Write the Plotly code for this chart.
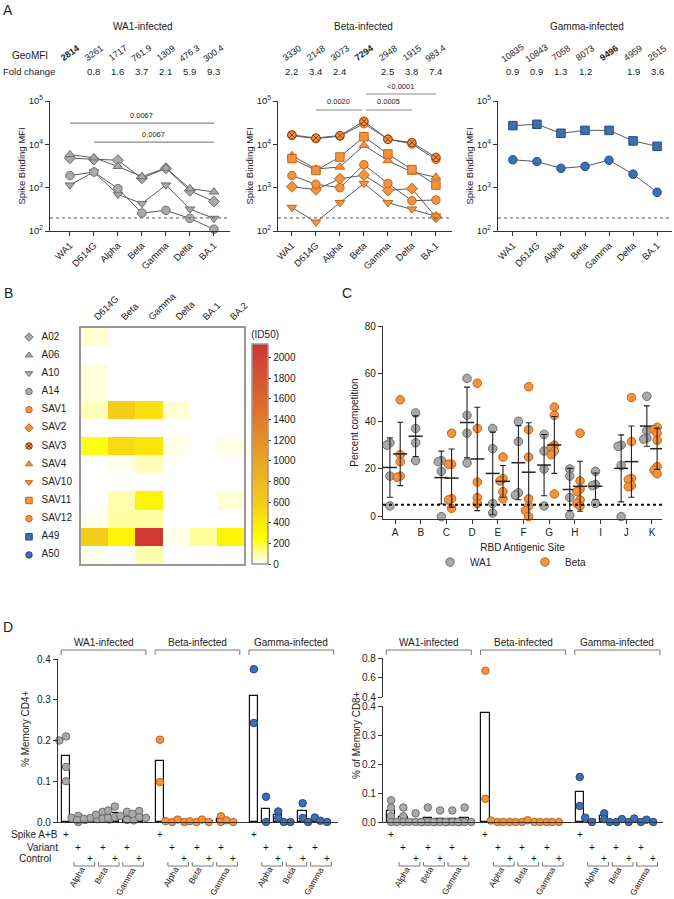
import numpy as np
import plotly.graph_objects as go

W, H = 674, 899
FONT = "Liberation Sans, Arial, sans-serif"


def px(x):
    return x / W


def py(y):
    return 1 - y / H


GREY, GREY_EDGE = "#a9a9a9", "#6f6f6f"
ORANGE, ORANGE_EDGE = "#f5923e", "#c0651a"
BLUE, BLUE_EDGE = "#3d6fb6", "#27487a"
AXC = "#333333"

# ---------------- Panel A : spike binding ----------------
variants_a = ["WA1", "D614G", "Alpha", "Beta", "Gamma", "Delta", "BA.1"]

wa1_donors = ["A02", "A06", "A10", "A14"]
wa1_mfi = [
    [4800, 4500, 4300, 1650, 2800, 850, 480],
    [5800, 4900, 3100, 1800, 2850, 950, 800],
    [1150, 2300, 700, 430, 1150, 320, 195],
    [1900, 2300, 950, 260, 300, 195, 110],
]
beta_donors = ["SAV1", "SAV2", "SAV3", "SAV4", "SAV10", "SAV11", "SAV12"]
beta_mfi = [
    [16000, 13500, 15500, 30000, 13200, 10200, 4500],
    [1050, 900, 1600, 1950, 870, 950, 210],
    [16500, 14000, 16000, 34000, 13000, 11000, 5000],
    [5500, 2700, 3000, 9500, 4200, 2300, 1750],
    [350, 160, 450, 1250, 450, 320, 220],
    [4700, 2500, 5100, 15000, 6000, 2600, 1150],
    [1900, 1200, 1000, 3400, 1250, 500, 520],
]
gamma_donors = ["A49", "A50"]
gamma_mfi = [
    [27000, 29000, 18000, 21000, 21000, 12000, 9000],
    [4400, 4000, 2800, 3100, 4300, 2050, 780],
]

wa1_geo = ["<b>2814</b>", "3261", "1717", "761.9", "1309", "476.3", "300.4"]
wa1_fold = ["", "0.8", "1.6", "3.7", "2.1", "5.9", "9.3"]
beta_geo = ["3330", "2148", "3073", "<b>7294</b>", "2948", "1915", "983.4"]
beta_fold = ["2.2", "3.4", "2.4", "", "2.5", "3.8", "7.4"]
gamma_geo = ["10835", "10843", "7058", "8073", "<b>9496</b>", "4959", "2615"]
gamma_fold = ["0.9", "0.9", "1.3", "1.2", "", "1.9", "3.6"]

# (from, to, MFI height, p value)
wa1_sig = [(0, 6, 31000, "0.0067"), (1, 6, 11300, "0.0067")]
beta_sig = [(1, 2.92, 62000, "0.0020"), (3.08, 5, 62000, "0.0005"), (3.08, 6, 145000, "<0.0001")]

donor_style = {
    "A02": ("diamond", GREY, GREY_EDGE), "A06": ("triangle-up", GREY, GREY_EDGE),
    "A10": ("triangle-down", GREY, GREY_EDGE), "A14": ("circle", GREY, GREY_EDGE),
    "SAV1": ("circle", ORANGE, ORANGE_EDGE), "SAV2": ("diamond", ORANGE, ORANGE_EDGE),
    "SAV3": ("circle-x", ORANGE, "#7a3a0a"), "SAV4": ("triangle-up", ORANGE, ORANGE_EDGE),
    "SAV10": ("triangle-down", ORANGE, ORANGE_EDGE), "SAV11": ("square", ORANGE, ORANGE_EDGE),
    "SAV12": ("circle", ORANGE, ORANGE_EDGE), "A49": ("square", BLUE, BLUE_EDGE),
    "A50": ("circle", BLUE, BLUE_EDGE),
}

# ---------------- Panel B : neutralisation heatmap ----------------
hm_cols = ["D614G", "Beta", "Gamma", "Delta", "BA.1", "BA.2"]
hm_rows = ["A02", "A06", "A10", "A14", "SAV1", "SAV2", "SAV3", "SAV4", "SAV10", "SAV11", "SAV12", "A49", "A50"]
hm_vals = [
    [45, 0, 0, 0, 0, 0],
    [0, 0, 0, 0, 0, 0],
    [35, 0, 0, 0, 0, 0],
    [35, 0, 0, 0, 0, 0],
    [70, 600, 450, 40, 0, 0],
    [0, 0, 0, 0, 0, 0],
    [230, 500, 430, 25, 0, 25],
    [0, 20, 70, 0, 0, 0],
    [0, 0, 0, 0, 0, 0],
    [0, 80, 330, 0, 0, 40],
    [15, 90, 90, 0, 0, 0],
    [600, 330, 2100, 20, 100, 330],
    [15, 0, 80, 0, 0, 0],
]

# ---------------- Panel C : competition ----------------
sites = ["A", "B", "C", "D", "E", "F", "G", "H", "I", "J", "K"]
wa1_comp = [
    [31, 30, 17, 4.5], [43.5, 37, 31, 23.5], [23.5, 23, 19, 0], [58, 42.5, 35, 22.5],
    [37, 28.5, 5.5, 1.5], [40, 31.5, 10, 9], [34.5, 27.5, 20, 4.5], [20, 17, 8, 0.5],
    [19, 13.5, 13, 5.5], [30, 29.5, 21.5, 0], [50.5, 36, 33, 32.5],
]
beta_comp = [
    [49, 26, 23, 17, 16.5], [], [35, 22, 22, 7.5, 7, 3.5], [56, 37, 14.5, 8, 5.5],
    [25, 16, 15, 10.5, 7.5], [54.5, 36.5, 25, 7.5, 4.5, 2.5, 0],
    [46, 42.5, 30, 29, 27.5, 26, 9.5], [35, 15, 11.5, 10.5, 7, 5.5, 4.5], [],
    [50, 31.5, 16, 15.5, 13, 12.5], [37.5, 36.5, 35, 32, 21, 19.5, 18],
]

# ---------------- Panel D : T cells ----------------
groups_d = ["WA1-infected", "Beta-infected", "Gamma-infected"]
pair_names = ["Alpha", "Beta", "Gamma"]
cd4_wa1 = [[0.21, 0.2, 0.135, 0.1], [0.015, 0.01, 0.005, 0.0], [0.01, 0.008, 0.007, 0.005],
           [0.025, 0.018, 0.008, 0.006], [0.038, 0.028, 0.012, 0.01], [0.025, 0.015, 0.005, 0.004],
           [0.027, 0.02, 0.012, 0.01]]
cd4_beta = [[0.202, 0.098], [0.0, 0.002], [0.0, 0.006], [0.0, 0.002], [0.0, 0.006], [0.014, 0.0], [0.0, 0.004]]
cd4_gamma = [[0.375, 0.243], [0.062, 0.0], [0.026, 0.01], [0.0, 0.0], [0.046, 0.01], [0.011, 0.0], [0.0, 0.003]]
cd8_wa1 = [[0.075, 0.05, 0.02, 0.0], [0.05, 0.02, 0.0, 0.0], [0.03, 0.0, 0.0, 0.0], [0.05, 0.0, 0.0, 0.0],
           [0.04, 0.0, 0.0, 0.0], [0.04, 0.0, 0.0, 0.0], [0.05, 0.0, 0.0, 0.0]]
cd8_beta = [[0.67, 0.08], [0.0, 0.005], [0.0, 0.0], [0.0, 0.0], [0.0, 0.006], [0.0, 0.0], [0.0, 0.0]]
cd8_gamma = [[0.155, 0.055], [0.0, 0.015], [0.03, 0.01], [0.0, 0.0], [0.0, 0.01], [0.0, 0.012], [0.0, 0.008]]
GROUP_STEP = 7.7

fig = go.Figure()
lay = {}
shapes = []
ann = []


def nm(kind, n):
    return kind + ("axis" if n == 1 else f"axis{n}")


def ref(kind, n):
    return kind if n == 1 else f"{kind}{n}"


def text(x, y, t, size=10, xref="paper", yref="paper", xanchor="center", yanchor="middle", color="#222", **kw):
    if not t:
        return
    ann.append(dict(x=x, y=y, text=t, xref=xref, yref=yref, showarrow=False, xanchor=xanchor, yanchor=yanchor,
                    font=dict(size=size, color=color, family=FONT), **kw))


def line(x0, y0, x1, y1, xref="paper", yref="paper", color="#888", width=1.2, dash=None):
    shapes.append(dict(type="line", x0=x0, y0=y0, x1=x1, y1=y1, xref=xref, yref=yref,
                       line=dict(color=color, width=width, dash=dash)))


def swarm(vals, thr, d):
    placed, offs = [], []
    for v in vals:
        o = 0
        for k in [0, -1, 1, -2, 2, -3, 3]:
            o = k * d
            if all(abs(v - pv) >= thr or abs(o - po) >= d * 0.99 for pv, po in placed):
                break
        placed.append((v, o))
        offs.append(o)
    return offs


axis_common = dict(showgrid=False, zeroline=False, showline=True, linecolor=AXC, linewidth=1.3,
                   ticks="outside", ticklen=4, tickcolor=AXC, tickwidth=1.2, automargin=False,
                   tickfont=dict(size=9.5, color="#222", family=FONT))

# ---- Panel A axes and traces
A_TOP, A_BOT = 101, 231


def a_paper(v):
    return py(A_BOT) + (np.log10(v) - 2) / 3 * (py(A_TOP) - py(A_BOT))


a_panels = [
    (1, 50, 230, [-0.83, 6.67], 143, "WA1-infected", wa1_donors, wa1_mfi, wa1_geo, wa1_fold, wa1_sig),
    (2, 278, 452, [-0.58, 6.67], 363, "Beta-infected", beta_donors, beta_mfi, beta_geo, beta_fold, beta_sig),
    (3, 498, 672, [-0.62, 6.62], 587, "Gamma-infected", gamma_donors, gamma_mfi, gamma_geo, gamma_fold, []),
]
for n, x0, x1, xr, tx, title, donors, mfi, geo, fold, sig in a_panels:
    lay[nm("x", n)] = dict(axis_common, domain=[px(x0), px(x1)], range=xr, anchor=ref("y", n),
                           tickvals=list(range(7)), ticktext=variants_a, tickangle=-45)
    lay[nm("y", n)] = dict(axis_common, domain=[py(A_BOT), py(A_TOP)], type="log", range=[2, 5],
                           anchor=ref("x", n), tickvals=[100, 1000, 10000, 100000],
                           ticktext=["10<sup>2</sup>", "10<sup>3</sup>", "10<sup>4</sup>", "10<sup>5</sup>"],
                           title=dict(text="Spike Binding MFI", font=dict(size=9.5, family=FONT, color="#222"),
                                      standoff=1))
    shapes.append(dict(type="line", xref=ref("x", n) + " domain", x0=0, x1=1, yref=ref("y", n), y0=200, y1=200,
                       line=dict(color="#555", width=1, dash="dot")))
    for d, vals in zip(donors, mfi):
        sym, col, edge = donor_style[d]
        fig.add_trace(go.Scatter(x=list(range(7)), y=vals, mode="lines+markers", showlegend=False,
                                 xaxis=ref("x", n), yaxis=ref("y", n), cliponaxis=False,
                                 line=dict(color="#5a5a5a", width=1),
                                 marker=dict(symbol=sym, size=8.5, color=col, line=dict(color=edge, width=1))))
    text(tx / W, py(26), title, size=10)
    for i in range(7):
        text(i, py(53), geo[i], size=9, xref=ref("x", n), textangle=-35)
        text(i, py(71), fold[i], size=9.5, xref=ref("x", n))
    for s0, s1, yv, lab in sig:
        line(s0, a_paper(yv), s1, a_paper(yv), xref=ref("x", n), color="#8a8a8a", width=1.2)
        text((s0 + s1) / 2, a_paper(yv) + 8 / H, lab, size=7.5, xref=ref("x", n))

text(px(50), py(55), "GeoMFI", size=10, xanchor="right")
text(px(1), py(71), "Fold change", size=9.5, xanchor="left")

# ---- Panel B
HM_TOP, HM_BOT = 328, 564
colorscale = [[0, "#ffffff"], [0.117, "#ffff00"], [0.28, "#f5cc1a"], [0.47, "#e8a523"],
              [0.66, "#e07a2a"], [1.0, "#d03434"]]
fig.add_trace(go.Heatmap(z=hm_vals, x=hm_cols, y=hm_rows, xaxis="x4", yaxis="y4", zmin=0, zmax=2130,
                         colorscale=colorscale, xgap=0, ygap=0,
                         colorbar=dict(x=px(252), xanchor="left", xpad=0, thickness=16, thicknessmode="pixels",
                                       len=HM_BOT - HM_TOP, lenmode="pixels", y=py((HM_TOP + HM_BOT) / 2),
                                       yanchor="middle", ypad=0, outlinecolor="#999", outlinewidth=1.5,
                                       tickvals=list(range(0, 2001, 200)), ticks="outside", ticklen=3,
                                       tickfont=dict(size=10, family=FONT, color="#222"),
                                       title=dict(text="(ID50)", side="top", font=dict(size=10, family=FONT)))))
lay["xaxis4"] = dict(domain=[px(81), px(244)], anchor="y4", side="top", tickangle=-45, showgrid=False,
                     zeroline=False, showline=True, mirror=True, linecolor="#999", linewidth=2, ticks="",
                     automargin=False, tickfont=dict(size=9.5, family=FONT, color="#222"))
lay["yaxis4"] = dict(domain=[py(HM_BOT), py(HM_TOP)], anchor="x4", type="category", range=[12.5, -0.5],
                     showticklabels=False, showgrid=False, zeroline=False, showline=True, mirror=True,
                     linecolor="#999", linewidth=2, ticks="", automargin=False)
lay["xaxis5"] = dict(domain=[px(20), px(80)], range=[0, 1], anchor="y5", visible=False, automargin=False)
lay["yaxis5"] = dict(domain=[py(HM_BOT), py(HM_TOP)], anchor="x5", type="category", range=[12.5, -0.5],
                     categoryarray=hm_rows, visible=False, automargin=False)
for r in hm_rows:
    sym, col, edge = donor_style[r]
    fig.add_trace(go.Scatter(x=[0.15], y=[r], mode="markers", xaxis="x5", yaxis="y5", showlegend=False,
                             marker=dict(symbol=sym, size=6.5, color=col, line=dict(color=edge, width=1))))
fig.add_trace(go.Scatter(x=[0.36] * len(hm_rows), y=hm_rows, text=hm_rows, mode="text", textposition="middle right",
                         xaxis="x5", yaxis="y5", showlegend=False, cliponaxis=False,
                         textfont=dict(size=10, family=FONT, color="#222")))

# ---- Panel C
lay["xaxis6"] = dict(axis_common, domain=[px(383), px(662)], range=[-0.47, 10.39], anchor="y6",
                     tickvals=list(range(11)), ticktext=sites, tickfont=dict(size=10, family=FONT, color="#222"),
                     title=dict(text="RBD Antigenic Site", font=dict(size=10, family=FONT, color="#222"), standoff=6))
lay["yaxis6"] = dict(axis_common, domain=[py(519), py(326)], range=[-1, 80], anchor="x6",
                     tickvals=[0, 20, 40, 60, 80], tickfont=dict(size=10, family=FONT, color="#222"),
                     title=dict(text="Percent competition", font=dict(size=10, family=FONT, color="#222"), standoff=4))
shapes.append(dict(type="line", xref="x6 domain", x0=0, x1=1, yref="y6", y0=5, y1=5,
                   line=dict(color="#111", width=2, dash="dot")))
for name, data, off, col, edge in [("WA1", wa1_comp, -0.2, GREY, GREY_EDGE), ("Beta", beta_comp, 0.2, ORANGE, ORANGE_EDGE)]:
    xs, ys, mx, my, sd = [], [], [], [], []
    for i, pts in enumerate(data):
        if not pts:
            continue
        offs = swarm(pts, 2.5, 0.12)
        xs += [i + off + o for o in offs]
        ys += pts
        mx.append(i + off)
        my.append(np.mean(pts))
        sd.append(np.std(pts, ddof=1))
    fig.add_trace(go.Scatter(x=xs, y=ys, mode="markers", name=name, xaxis="x6", yaxis="y6", cliponaxis=False,
                             marker=dict(size=8.5, color=col, line=dict(color=edge, width=1))))
    fig.add_trace(go.Scatter(x=mx, y=my, mode="markers", showlegend=False, xaxis="x6", yaxis="y6",
                             marker=dict(symbol="line-ew", size=10, line=dict(color="#222", width=1.5)),
                             error_y=dict(type="data", array=sd, width=3, thickness=1.1, color="#222")))

# ---- Panel D
d_colors = [(GREY, GREY_EDGE), (ORANGE, ORANGE_EDGE), (BLUE, BLUE_EDGE)]
pos = [[g * GROUP_STEP + i for i in range(7)] for g in range(3)]

lay["xaxis7"] = dict(domain=[px(58), px(338)], range=[-0.66, 22.3], anchor="y7", showgrid=False, zeroline=False,
                     showline=True, linecolor=AXC, linewidth=1.3, showticklabels=False, ticks="", automargin=False)
lay["yaxis7"] = dict(axis_common, domain=[py(822), py(659)], range=[0, 0.4], anchor="x7",
                     tickvals=[0, 0.1, 0.2, 0.3, 0.4], tickformat=".1f",
                     tickfont=dict(size=10, family=FONT, color="#222"))
lay["xaxis8"] = dict(domain=[px(383), px(663)], range=[-0.66, 22.2], anchor="y8", showgrid=False, zeroline=False,
                     showline=True, linecolor=AXC, linewidth=1.3, showticklabels=False, ticks="", automargin=False)
lay["yaxis8"] = dict(axis_common, domain=[py(822), py(706)], range=[0, 0.4], anchor="x8",
                     tickvals=[0, 0.1, 0.2, 0.3, 0.4], tickformat=".1f",
                     tickfont=dict(size=10, family=FONT, color="#222"))
lay["yaxis9"] = dict(axis_common, domain=[py(697), py(658)], range=[0.4, 0.8], anchor="x8",
                     tickvals=[0.4, 0.6, 0.8], tickformat=".1f",
                     tickfont=dict(size=10, family=FONT, color="#222"))

for xr, yl, yu, sets, thr in [("x7", "y7", None, [cd4_wa1, cd4_beta, cd4_gamma], 0.012),
                              ("x8", "y8", "y9", [cd8_wa1, cd8_beta, cd8_gamma], 0.017)]:
    bx, by = [], []
    for g, cond in enumerate(sets):
        for i, pts in enumerate(cond):
            bx.append(pos[g][i])
            by.append(np.mean(pts))
    fig.add_trace(go.Bar(x=bx, y=by, width=0.68, xaxis=xr, yaxis=yl, showlegend=False,
                         marker=dict(color="white", line=dict(color="#111", width=1.2))))
    for g, cond in enumerate(sets):
        col, edge = d_colors[g]
        lx, ly, ux, uy = [], [], [], []
        for i, pts in enumerate(cond):
            offs = swarm(pts, thr, 0.55)
            for v, o in zip(pts, offs):
                if yu is not None and v > 0.4:
                    ux.append(pos[g][i] + o)
                    uy.append(v)
                else:
                    lx.append(pos[g][i] + o)
                    ly.append(v)
        fig.add_trace(go.Scatter(x=lx, y=ly, mode="markers", xaxis=xr, yaxis=yl, showlegend=False,
                                 cliponaxis=False, marker=dict(size=7.5, color=col, line=dict(color=edge, width=1))))
        if ux:
            fig.add_trace(go.Scatter(x=ux, y=uy, mode="markers", xaxis=xr, yaxis=yu, showlegend=False,
                                     cliponaxis=False, marker=dict(size=7.5, color=col, line=dict(color=edge, width=1))))

    # group brackets, + rows, pair brackets
    for g in range(3):
        a0, a1 = pos[g][0] - 0.4, pos[g][6] + 0.55
        line(a0, py(650), a1, py(650), xref=xr, color="#777", width=1)
        line(a0, py(650), a0, py(655), xref=xr, color="#777", width=1)
        line(a1, py(650), a1, py(655), xref=xr, color="#777", width=1)
        text((a0 + a1) / 2, py(642), groups_d[g], size=10, xref=xr)
        for i in range(7):
            row_y = 834 if i == 0 else (847 if i % 2 == 1 else 858)
            text(pos[g][i], py(row_y), "+", size=10, xref=xr, color="#111")
        for p in range(3):
            v, c = pos[g][1 + 2 * p], pos[g][2 + 2 * p]
            b0, b1 = v - 0.35, c + 0.35
            line(b0, py(866), b1, py(866), xref=xr, color="#777", width=1)
            line(b0, py(866), b0, py(862), xref=xr, color="#777", width=1)
            line(b1, py(866), b1, py(862), xref=xr, color="#777", width=1)
            text((v + c) / 2 - 0.6, py(862), pair_names[p], size=8.5, xref=xr, textangle=-60, yanchor="top")

text(px(60), py(834), "Spike A+B", size=10, xanchor="right")
text(px(60), py(847), "Variant", size=10, xanchor="right")
text(px(53), py(858), "Control", size=10, xanchor="right")
text(px(25), py(728), "% Memory CD4+", size=10, textangle=-90)
text(px(356), py(735), "% of Memory CD8+", size=10, textangle=-90)

# panel letters
for lab, x, y in [("A", 8, 10), ("B", 8, 293), ("C", 347, 293), ("D", 8, 627)]:
    text(px(x), py(y), lab, size=14)

fig.update_layout(
    **lay,
    template="none",
    shapes=shapes,
    annotations=ann,
    width=W, height=H,
    margin=dict(l=0, r=0, t=0, b=0, autoexpand=False),
    paper_bgcolor="white", plot_bgcolor="rgba(0,0,0,0)",
    font=dict(family=FONT, color="#222", size=10),
    showlegend=True,
    legend=dict(orientation="h", x=px(430), y=py(562), xanchor="left", yanchor="middle",
                entrywidth=50, font=dict(size=10, family=FONT, color="#222"), bgcolor="rgba(0,0,0,0)"),
    bargap=0,
)

fig.write_html("out.html", config={"displayModeBar": False},
               post_script="document.body.style.margin='0px';document.body.style.overflow='hidden';")
